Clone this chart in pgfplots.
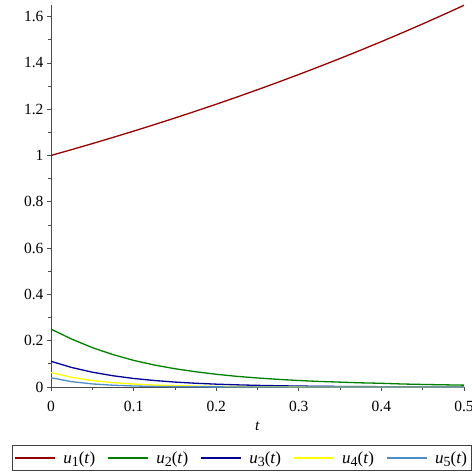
\documentclass[border=0pt]{standalone}
\usepackage{fontspec}
\setmainfont{Liberation Serif}
\usepackage{pgfplots}
\pgfplotsset{compat=1.18}
\definecolor{c1}{RGB}{150,0,0}
\definecolor{c2}{RGB}{0,128,0}
\definecolor{c3}{RGB}{0,0,150}
\definecolor{c4}{RGB}{255,255,0}
\definecolor{c5}{RGB}{80,140,200}
\newcommand{\uu}[1]{\textit{u}\raisebox{-0.4ex}{\fontsize{14}{15}\selectfont #1}(\textit{t})}
\begin{document}
\begin{tikzpicture}
\begin{axis}[
  scale only axis, width=413pt, height=382pt,
  xmin=0, xmax=0.5, ymin=0, ymax=1.65,
  axis x line*=bottom, axis y line*=left,
  axis line style={draw=black!70, line width=0.8pt},
  xtick={0,0.1,0.2,0.3,0.4,0.5},
  ytick={0,0.2,0.4,0.6,0.8,1,1.2,1.4,1.6},
  minor tick num=1,
  tick align=outside,
  major tick length=4pt, minor tick length=3pt,
  tick style={black!70, line width=0.7pt},
  tick label style={font=\fontsize{15.5}{17}\selectfont},
  xticklabel style={yshift=-7pt},
  /pgf/number format/assume math mode=true,
  /pgf/number format/fixed,
  xlabel={\textit{t}},
  xlabel style={font=\fontsize{15.5}{17}\selectfont, at={(rel axis cs:0.5,0)}, anchor=north, yshift=-31pt},
  legend columns=5,
  legend style={at={(rel axis cs:0.462,-0.152)}, anchor=north, draw=black!75, line width=0.9pt,
    font=\fontsize{17}{19}\selectfont, inner xsep=2pt, inner ysep=4pt,
    /tikz/every odd column/.append style={column sep=5pt},
    /tikz/every even column/.append style={column sep=10.3pt}},
  legend image code/.code={\draw[#1, line width=1.8pt] (0pt,0pt) -- (40pt,0pt);},
  legend image post style={line width=1.8pt},
]
\addplot[c1, line width=1.3pt] coordinates {(0,1) (0.025,1.02532) (0.05,1.05127) (0.075,1.07788) (0.1,1.10517) (0.125,1.13315) (0.15,1.16183) (0.175,1.19125) (0.2,1.22140) (0.225,1.25232) (0.25,1.28403) (0.275,1.31653) (0.3,1.34986) (0.325,1.38403) (0.35,1.41907) (0.375,1.45499) (0.4,1.49182) (0.425,1.52959) (0.45,1.56831) (0.475,1.60801) (0.5,1.64872)};
\addlegendentry{\uu{1}}
\addplot[c2, line width=1.3pt] coordinates {(0,0.25) (0.025,0.207) (0.05,0.17) (0.075,0.14) (0.1,0.115) (0.125,0.095) (0.15,0.079) (0.175,0.066) (0.2,0.055) (0.225,0.046) (0.25,0.039) (0.275,0.033) (0.3,0.028) (0.325,0.024) (0.35,0.021) (0.375,0.018) (0.4,0.016) (0.425,0.013) (0.45,0.011) (0.475,0.0095) (0.5,0.008)};
\addlegendentry{\uu{2}}
\addplot[c3, line width=1.3pt] coordinates {(0,0.111) (0.025,0.0843) (0.05,0.064) (0.075,0.0486) (0.1,0.0369) (0.125,0.0281) (0.15,0.0213) (0.175,0.0162) (0.2,0.0123) (0.225,0.0093) (0.25,0.0071) (0.275,0.0054) (0.3,0.0041) (0.325,0.0031) (0.35,0.0024) (0.375,0.0018) (0.4,0.0014) (0.425,0.001) (0.45,0.0008) (0.475,0.0006) (0.5,0.0005)};
\addlegendentry{\uu{3}}
\addplot[c4, line width=1.3pt] coordinates {(0,0.0625) (0.025,0.0419) (0.05,0.0281) (0.075,0.0188) (0.1,0.0126) (0.125,0.0085) (0.15,0.0057) (0.175,0.0038) (0.2,0.0025) (0.225,0.0017) (0.25,0.0011) (0.275,0.0008) (0.3,0.0005) (0.325,0.0003) (0.35,0.0002) (0.375,0.0002) (0.4,0.0001) (0.425,0.0001) (0.45,0) (0.475,0) (0.5,0)};
\addlegendentry{\uu{4}}
\addplot[c5, line width=1.3pt] coordinates {(0,0.04) (0.025,0.0231) (0.05,0.0133) (0.075,0.0077) (0.1,0.0044) (0.125,0.0026) (0.15,0.0015) (0.175,0.0009) (0.2,0.0005) (0.225,0.0003) (0.25,0.0002) (0.275,0.0001) (0.3,0) (0.35,0) (0.4,0) (0.45,0) (0.5,0)};
\addlegendentry{\uu{5}}
\end{axis}
\pgfresetboundingbox
\path[use as bounding box] ([shift={(-51pt,-86pt)}]current axis.south west) rectangle ([shift={(420pt,387pt)}]current axis.south west);
\end{tikzpicture}
\end{document}
